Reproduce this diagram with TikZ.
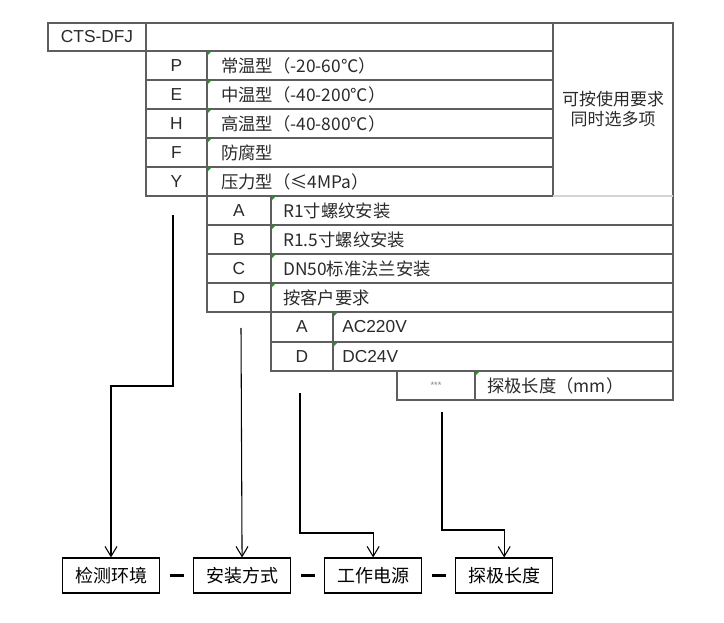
\documentclass[tikz,border=0pt]{standalone}
\usepackage{fontspec}
\setmainfont{Liberation Sans}
\newfontfamily\cjk{Noto Sans CJK SC}
\usepackage{xcolor}
\usepackage{tikz}
\usetikzlibrary{arrows.meta,positioning,calc}
\definecolor{gridgray}{HTML}{5E5E5E}
\definecolor{faintgray}{HTML}{D4D4D4}
\definecolor{flaggreen}{HTML}{2F8F2F}
\definecolor{textgray}{HTML}{2A2A2A}
\tikzstyle{tableline} = [draw=gridgray, line width=0.8pt]
\tikzstyle{faintline} = [draw=faintgray, line width=0.8pt]
\tikzstyle{letter} = [inner sep=0pt, text=textgray, font=\fontsize{13pt}{15pt}\selectfont]
\tikzstyle{desc} = [anchor=west, inner sep=0pt, text=textgray, font=\cjk\fontsize{13pt}{15pt}\selectfont]
\tikzstyle{endbox} = [rectangle, draw, line width=0.8pt, minimum width=72.75pt, minimum height=26.25pt, font=\cjk\fontsize{13.5pt}{15pt}\selectfont]
\tikzstyle{joiner} = [fill=black, inner sep=0pt, minimum width=10.5pt, minimum height=1.6pt]

\begin{document}
\begin{tikzpicture}[x=0.75pt, y=-0.75pt, >={Straight Barb[length=7.5pt,width=9pt]}]
  \useasboundingbox (0,0) rectangle (724,623);
  \draw[tableline] (48,23) rectangle (146,51);
  \draw[tableline] (146,23) -- (673,23) -- (673,400) -- (397,400) -- (397,371) -- (271,371) -- (271,312) -- (207,312) -- (207,196) -- (146,196) -- cycle;
  \draw[tableline] (553,23) -- (553,196);
  \draw[tableline] (207,51) -- (207,196);
  \foreach \y in {51,80,109,138,167} \draw[tableline] (146,\y) -- (553,\y);
  \draw[tableline] (207,196) -- (553,196);
  \draw[faintline] (553,196) -- (673,196);
  \foreach \y in {225,254,283,312} \draw[tableline] (207,\y) -- (673,\y);
  \draw[tableline] (271,196) -- (271,312);
  \draw[tableline] (333,312) -- (333,371);
  \draw[tableline] (271,342) -- (673,342);
  \draw[tableline] (397,371) -- (673,371);
  \draw[tableline] (475,371) -- (475,400);
  \foreach \x/\y in {207/51,207/80,207/109,207/138,207/167,271/196,271/225,271/254,271/283,333/312,333/342,475/371}
    \fill[flaggreen] (\x+0.5,\y+0.5) -- ++(4,0) -- ++(-4,4) -- cycle;

  \node[letter] (cts) at (97,37) {CTS-DFJ};
  \foreach \c/\t [count=\i] in {P/常温型（-20-60℃）, E/中温型（-40-200℃）, H/高温型（-40-800℃）, F/防腐型, Y/压力型（≤4MPa）} {
    \node[letter] (env\c) at (176.5,36.5+29*\i) {\c};
    \node[desc] (envtext\c) at (221,36.5+29*\i) {\t};
  }
  \node[align=center, text=textgray, font=\cjk\fontsize{12.75pt}{15pt}\selectfont] (multi) at (613,109.5) {可按使用要求\\同时选多项};
  \foreach \c/\t [count=\i] in {A/R1寸螺纹安装, B/R1.5寸螺纹安装, C/DN50标准法兰安装, D/按客户要求} {
    \node[letter] (mount\c) at (239,181.5+29*\i) {\c};
    \node[desc] (mounttext\c) at (283,181.5+29*\i) {\t};
  }
  \node[letter] (powerA) at (302,327) {A};
  \node[letter, anchor=west] (powertextA) at (342,327) {AC220V};
  \node[letter] (powerD) at (302,356.5) {D};
  \node[letter, anchor=west] (powertextD) at (342,356.5) {DC24V};
  \node[letter, font=\fontsize{7pt}{8pt}\selectfont, text=gray] (stars) at (436,385.5) {***};
  \node[desc] (probetext) at (487,385.5) {探极长度（mm）};

  \node[endbox] (env) at (111,575.5) {检测环境};
  \node[endbox, right=24.75pt of env] (mount) {安装方式};
  \node[endbox, right=24.75pt of mount] (power) {工作电源};
  \node[endbox, right=24.75pt of power] (probe) {探极长度};
  \node[joiner] (dash1) at ($(env.east)!0.5!(mount.west)$) {};
  \node[joiner] (dash2) at ($(mount.east)!0.5!(power.west)$) {};
  \node[joiner] (dash3) at ($(power.east)!0.5!(probe.west)$) {};

  \coordinate (envfrom) at (173,215);
  \coordinate (mountfrom) at (241,328);
  \coordinate (powerfrom) at (300,393);
  \coordinate (probefrom) at (442,412);
  \draw[->, line width=0.8pt] (envfrom) -- ++(0,171) -| (env.north);
  \draw[->, line width=0.8pt] (mountfrom) -- (mount.north);
  \draw[->, line width=0.8pt] (powerfrom) -- ++(0,140) -| (power.north);
  \draw[->, line width=0.8pt] (probefrom) -- ++(0,118) -| (probe.north);
\end{tikzpicture}
\end{document}
